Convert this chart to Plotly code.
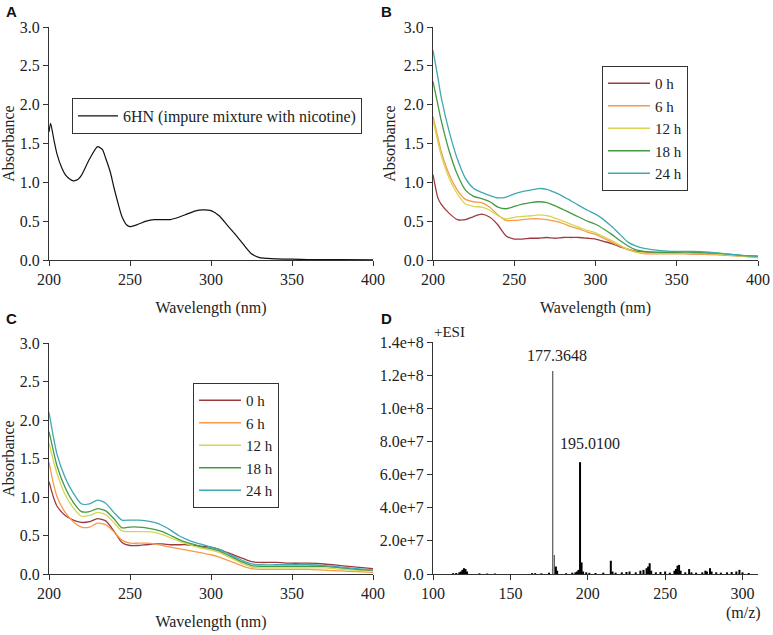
import plotly.graph_objects as go

# ---------------- Data ----------------
# Panel A: 6HN spectrum
wl_a = [200, 201, 203, 205, 208, 210, 213, 215, 218, 220, 225, 230, 233, 235, 238, 240, 243, 245, 248, 250,
        255, 260, 265, 270, 275, 280, 285, 290, 295, 300, 305, 310, 315, 320, 325, 330, 335, 340, 350, 360, 380, 400]
abs_a = [1.65, 1.76, 1.55, 1.36, 1.18, 1.10, 1.04, 1.02, 1.04, 1.09, 1.30, 1.46, 1.42, 1.31, 1.12, 0.94, 0.70, 0.56, 0.45, 0.43,
         0.46, 0.50, 0.52, 0.52, 0.52, 0.55, 0.59, 0.63, 0.645, 0.635, 0.57, 0.45, 0.33, 0.20, 0.08, 0.03, 0.02, 0.015, 0.01, 0.005, 0.004, 0.003]

# Panel B & C shared wavelength grid
wl = [200, 203, 205, 210, 215, 220, 225, 230, 235, 240, 245, 250, 255, 260, 265, 270, 275, 280, 285, 290,
      295, 300, 305, 310, 315, 320, 325, 330, 340, 350, 360, 370, 380, 390, 400]

series_labels = ["0 h", "6 h", "12 h", "18 h", "24 h"]
series_colors = ["#9e3a3f", "#f79a4a", "#d6d650", "#459a45", "#40a8b0"]

b_0h = [1.10, 0.80, 0.72, 0.60, 0.52, 0.52, 0.56, 0.59, 0.55, 0.45, 0.31, 0.27, 0.27, 0.28, 0.28, 0.29, 0.28, 0.29, 0.29, 0.29,
        0.28, 0.27, 0.24, 0.21, 0.17, 0.14, 0.11, 0.10, 0.09, 0.09, 0.08, 0.08, 0.07, 0.05, 0.04]
b_6h = [1.85, 1.58, 1.40, 1.10, 0.90, 0.78, 0.75, 0.74, 0.68, 0.58, 0.51, 0.51, 0.52, 0.53, 0.53, 0.52, 0.50, 0.47, 0.43, 0.40,
        0.36, 0.33, 0.28, 0.23, 0.18, 0.13, 0.10, 0.08, 0.08, 0.08, 0.08, 0.07, 0.06, 0.05, 0.03]
b_12h = [1.80, 1.52, 1.35, 1.05, 0.85, 0.72, 0.69, 0.68, 0.64, 0.57, 0.53, 0.55, 0.56, 0.57, 0.58, 0.57, 0.54, 0.50, 0.46, 0.42,
         0.38, 0.35, 0.30, 0.25, 0.19, 0.14, 0.10, 0.09, 0.09, 0.09, 0.09, 0.08, 0.07, 0.05, 0.04]
b_18h = [2.30, 2.00, 1.80, 1.40, 1.10, 0.90, 0.82, 0.79, 0.75, 0.68, 0.66, 0.69, 0.72, 0.74, 0.75, 0.74, 0.70, 0.65, 0.60, 0.55,
         0.50, 0.46, 0.40, 0.33, 0.25, 0.18, 0.13, 0.11, 0.10, 0.10, 0.10, 0.09, 0.08, 0.06, 0.05]
b_24h = [2.70, 2.35, 2.10, 1.65, 1.30, 1.05, 0.92, 0.87, 0.83, 0.80, 0.81, 0.85, 0.88, 0.90, 0.92, 0.91, 0.87, 0.82, 0.76, 0.70,
         0.64, 0.59, 0.52, 0.43, 0.33, 0.23, 0.18, 0.15, 0.12, 0.11, 0.11, 0.10, 0.08, 0.06, 0.05]

c_0h = [1.20, 0.98, 0.88, 0.76, 0.70, 0.67, 0.68, 0.72, 0.69, 0.56, 0.41, 0.37, 0.37, 0.38, 0.39, 0.39, 0.38, 0.38, 0.38, 0.37,
        0.36, 0.35, 0.32, 0.28, 0.24, 0.20, 0.16, 0.15, 0.15, 0.14, 0.14, 0.13, 0.11, 0.09, 0.07]
c_6h = [1.45, 1.15, 1.00, 0.80, 0.68, 0.61, 0.61, 0.66, 0.64, 0.55, 0.44, 0.40, 0.40, 0.40, 0.39, 0.37, 0.35, 0.33, 0.31, 0.29,
        0.27, 0.25, 0.22, 0.18, 0.14, 0.10, 0.07, 0.06, 0.06, 0.06, 0.06, 0.05, 0.04, 0.03, 0.02]
c_12h = [1.70, 1.45, 1.30, 1.03, 0.86, 0.75, 0.76, 0.80, 0.77, 0.67, 0.56, 0.55, 0.55, 0.55, 0.54, 0.51, 0.47, 0.43, 0.39, 0.36,
         0.33, 0.31, 0.28, 0.23, 0.18, 0.13, 0.09, 0.08, 0.08, 0.08, 0.08, 0.08, 0.06, 0.05, 0.04]
c_18h = [1.85, 1.57, 1.40, 1.12, 0.93, 0.81, 0.81, 0.85, 0.82, 0.72, 0.60, 0.61, 0.61, 0.60, 0.58, 0.55, 0.50, 0.45, 0.41, 0.38,
         0.35, 0.33, 0.30, 0.25, 0.20, 0.15, 0.11, 0.10, 0.10, 0.10, 0.10, 0.10, 0.08, 0.06, 0.05]
c_24h = [2.10, 1.75, 1.55, 1.25, 1.05, 0.91, 0.91, 0.96, 0.92, 0.80, 0.70, 0.70, 0.70, 0.69, 0.67, 0.63, 0.57, 0.50, 0.45, 0.41,
         0.38, 0.35, 0.32, 0.27, 0.22, 0.17, 0.13, 0.12, 0.12, 0.12, 0.12, 0.11, 0.09, 0.07, 0.05]

# Panel D: mass spectrum peaks (m/z, intensity)
mz_grey = [177.36, 178.4]
int_grey = [1.225e8, 1.15e7]
mz_black = [113, 115, 117, 118, 119, 120, 121, 122, 130, 135, 140, 164, 166, 170, 175, 179.4, 180.2, 186, 190, 192,
            193, 194, 195.01, 196, 197, 199, 201, 205, 210, 214.9, 216, 218, 222, 225, 227, 231, 234, 236, 238, 239,
            240, 241, 244, 247, 250, 253, 256, 257, 258, 259, 260, 263, 265.5, 267, 270, 274, 276, 277, 279, 280,
            283, 286, 290, 293, 296, 298, 300, 304]
int_black = [0.5e6, 0.6e6, 1.0e6, 1.5e6, 2.5e6, 3.5e6, 3.0e6, 1.5e6, 0.4e6, 0.3e6, 0.3e6, 0.5e6, 0.5e6, 0.4e6, 0.8e6, 4.5e6, 2.0e6, 0.5e6, 0.8e6, 1.0e6,
             1.5e6, 2.5e6, 6.75e7, 7.0e6, 1.5e6, 1.0e6, 0.7e6, 0.6e6, 0.8e6, 8.0e6, 1.5e6, 0.8e6, 1.0e6, 1.2e6, 1.5e6, 1.0e6, 2.0e6, 2.5e6, 3.5e6, 4.5e6,
             6.5e6, 2.0e6, 1.0e6, 1.2e6, 1.5e6, 0.8e6, 2.0e6, 3.0e6, 5.0e6, 5.5e6, 2.0e6, 1.0e6, 3.0e6, 1.0e6, 0.8e6, 1.0e6, 2.0e6, 1.5e6, 3.5e6, 1.5e6,
             1.0e6, 0.8e6, 1.0e6, 1.2e6, 1.5e6, 2.5e6, 1.0e6, 0.6e6]
peak_labels = ["177.3648", "195.0100"]
peak_label_x = [180.0, 201.4]
peak_label_y = [1.32e8, 7.9e7]

abs_ticks = [0.0, 0.5, 1.0, 1.5, 2.0, 2.5, 3.0]
abs_ticktext = ["0.0", "0.5", "1.0", "1.5", "2.0", "2.5", "3.0"]
wl_ticks = [200, 250, 300, 350, 400]
ms_yticks = [0, 2e7, 4e7, 6e7, 8e7, 1e8, 1.2e8, 1.4e8]
ms_yticktext = ["0.0", "2.0e+7", "4.0e+7", "6.0e+7", "8.0e+7", "1.0e+8", "1.2e+8", "1.4e+8"]
ms_xticks = [100, 150, 200, 250, 300]

# ---------------- Figure ----------------
W, H = 773, 635
SERIF = "Liberation Serif"
TXT = "#222222"
fig = go.Figure()

def stick(xs, ys):
    X, Y = [], []
    for x, y in zip(xs, ys):
        X += [x, x, None]
        Y += [0, y, None]
    return X, Y

# Panel A
fig.add_trace(go.Scatter(x=wl_a, y=abs_a, mode="lines", line=dict(color="#111111", width=1.2, shape="spline", smoothing=0.6),
                         name="6HN (impure mixture with nicotine)", xaxis="x", yaxis="y", legend="legend"))

b_series = [b_0h, b_6h, b_12h, b_18h, b_24h]
c_series = [c_0h, c_6h, c_12h, c_18h, c_24h]
for lab, col, ys in zip(series_labels, series_colors, b_series):
    fig.add_trace(go.Scatter(x=wl, y=ys, mode="lines", line=dict(color=col, width=1.3, shape="spline", smoothing=0.6),
                             name=lab, xaxis="x2", yaxis="y2", legend="legend2"))
for lab, col, ys in zip(series_labels, series_colors, c_series):
    fig.add_trace(go.Scatter(x=wl, y=ys, mode="lines", line=dict(color=col, width=1.3, shape="spline", smoothing=0.6),
                             name=lab, xaxis="x3", yaxis="y3", legend="legend3"))

gx, gy = stick(mz_grey, int_grey)
bx, by = stick(mz_black, int_black)
fig.add_trace(go.Scatter(x=gx, y=gy, mode="lines", line=dict(color="#555555", width=1.2), showlegend=False,
                         xaxis="x4", yaxis="y4"))
fig.add_trace(go.Scatter(x=bx, y=by, mode="lines", line=dict(color="#000000", width=2), showlegend=False,
                         xaxis="x4", yaxis="y4"))

def px_dom(a, b):
    return [a / W, b / W]

def py_dom(top, bottom):
    return [1 - bottom / H, 1 - top / H]

axis_common = dict(showline=True, linecolor="#333333", linewidth=1, ticks="outside", ticklen=5, tickcolor="#333333",
                   showgrid=False, zeroline=False, tickfont=dict(family=SERIF, size=16, color=TXT), automargin=False,
                   fixedrange=True)

xA = px_dom(49, 373)
xB = px_dom(433, 758)
yTop = py_dom(27, 260)
yBot = py_dom(343, 574)

title_font = dict(family=SERIF, size=16, color=TXT)
xt = dict(text="Wavelength (nm)", font=title_font, standoff=14)
yt = dict(text="Absorbance", font=title_font, standoff=4)
leg_font = dict(family=SERIF, size=15, color=TXT)

fig.update_layout(
    width=W, height=H, margin=dict(l=0, r=0, t=0, b=0),
    paper_bgcolor="white", plot_bgcolor="white",
    xaxis=dict(domain=xA, anchor="y", range=[200, 400], tickvals=wl_ticks, title=xt, **axis_common),
    yaxis=dict(domain=yTop, anchor="x", range=[0, 3.0], tickvals=abs_ticks, ticktext=abs_ticktext, title=yt, **axis_common),
    xaxis2=dict(domain=xB, anchor="y2", range=[200, 400], tickvals=wl_ticks, title=xt, **axis_common),
    yaxis2=dict(domain=yTop, anchor="x2", range=[0, 3.0], tickvals=abs_ticks, ticktext=abs_ticktext, title=yt, **axis_common),
    xaxis3=dict(domain=xA, anchor="y3", range=[200, 400], tickvals=wl_ticks, title=xt, **axis_common),
    yaxis3=dict(domain=yBot, anchor="x3", range=[0, 3.0], tickvals=abs_ticks, ticktext=abs_ticktext, title=yt, **axis_common),
    xaxis4=dict(domain=xB, anchor="y4", range=[100, 310], tickvals=ms_xticks, **axis_common),
    yaxis4=dict(domain=py_dom(342, 574), anchor="x4", range=[0, 1.4e8], tickvals=ms_yticks, ticktext=ms_yticktext,
                **axis_common),
    legend=dict(x=72 / W, y=1 - 98 / H, xanchor="left", yanchor="top", bordercolor="#333333", borderwidth=1,
                bgcolor="white", itemwidth=40, font=dict(family=SERIF, size=16, color=TXT)),
    legend2=dict(x=602 / W, y=1 - 66 / H, xanchor="left", yanchor="top", bordercolor="#333333", borderwidth=1,
                 bgcolor="white", itemwidth=42, font=leg_font),
    legend3=dict(x=193 / W, y=1 - 383 / H, xanchor="left", yanchor="top", bordercolor="#333333", borderwidth=1,
                 bgcolor="white", itemwidth=42, font=leg_font),
    showlegend=True,
)

annos = []
for letter, x, y in [("A", 11, 11), ("B", 386, 11), ("C", 11, 318), ("D", 386, 318)]:
    annos.append(dict(text="<b>%s</b>" % letter, x=x / W, y=1 - y / H, xref="paper", yref="paper",
                      showarrow=False, xanchor="center", yanchor="middle",
                      font=dict(family="Liberation Sans", size=15, color="#111111")))
for lab, px_, py_ in zip(peak_labels, peak_label_x, peak_label_y):
    annos.append(dict(text=lab, x=px_, y=py_, xref="x4", yref="y4", showarrow=False, xanchor="center",
                      yanchor="middle", font=dict(family=SERIF, size=16, color=TXT)))
annos.append(dict(text="+ESI", x=432 / W, y=1 - 332 / H, xref="paper", yref="paper", showarrow=False,
                  xanchor="left", yanchor="middle", font=dict(family=SERIF, size=15, color=TXT)))
annos.append(dict(text="(m/z)", x=763 / W, y=1 - 613 / H, xref="paper", yref="paper", showarrow=False,
                  xanchor="right", yanchor="middle", font=dict(family=SERIF, size=16, color=TXT)))
fig.update_layout(annotations=annos)

fig.write_html("out.html", config={"displayModeBar": False},
               post_script="document.body.style.margin='0px';document.body.style.overflow='hidden';")
